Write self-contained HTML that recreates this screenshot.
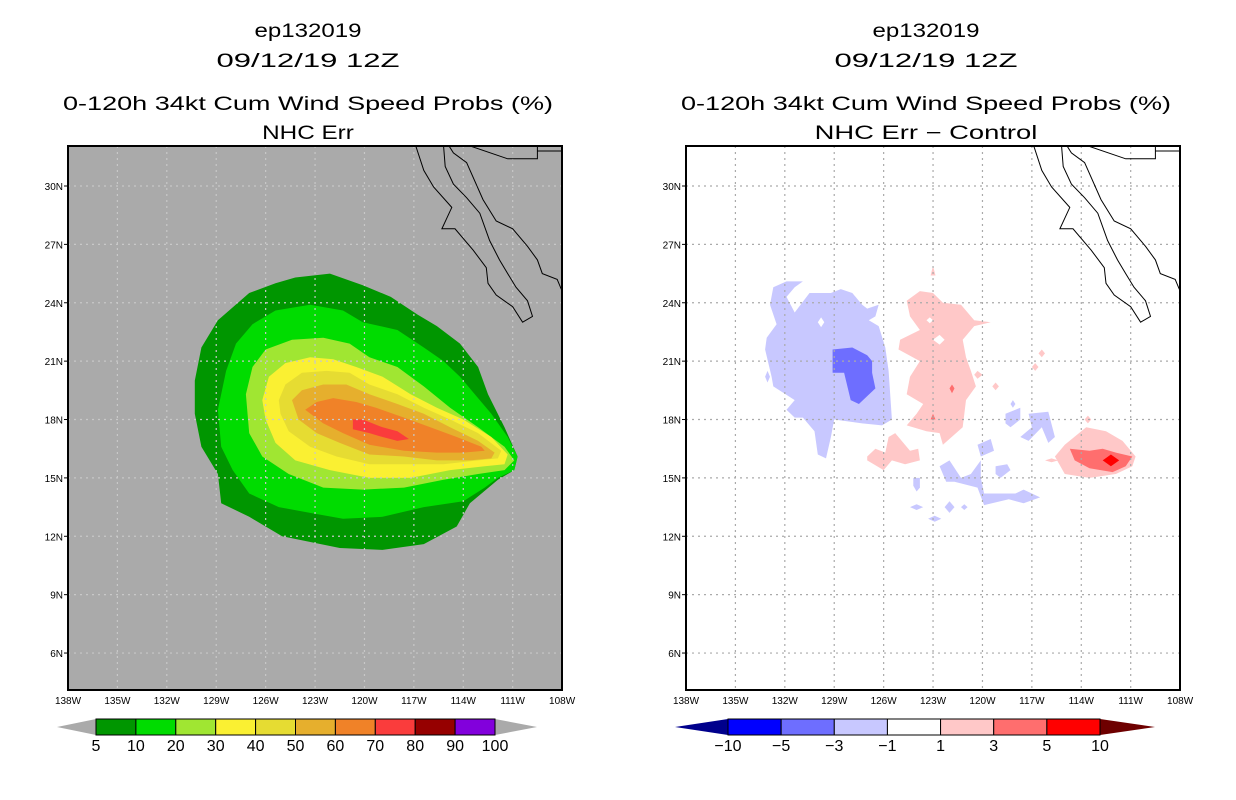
<!DOCTYPE html>
<html><head><meta charset="utf-8">
<style>
html,body{margin:0;padding:0;background:#fff;}
svg{display:block;font-family:"Liberation Sans",sans-serif;}
</style></head>
<body>
<svg id="chart" width="1236" height="800" viewBox="0 0 1236 800" xmlns="http://www.w3.org/2000/svg"></svg>
<script>
// ---------- data ----------
const lonTicks = [138,135,132,129,126,123,120,117,114,111,108];
const latTicks = [30,27,24,21,18,15,12,9,6];
const probLevels = ["5","10","20","30","40","50","60","70","80","90","100"];
const probColors = ["#009600","#00dc00","#a0e632","#faf032","#e6dc32","#e6af2d","#f08228","#fa3c3c","#960000","#8200dc"];
const diffLevels = ["-10","-5","-3","-1","1","3","5","10"];
const diffColors = ["#00008c","#0000ff","#6e6eff","#c8c8ff","#ffffff","#ffc8c8","#ff6e6e","#ff0000","#6e0000"];

// contour polygons: [lonW, latN]
const prob5 = [[130.3,20.0],[129.9,21.7],[128.9,23.1],[127.0,24.5],[125.4,25.0],[124.2,25.3],[122.1,25.5],[120.1,24.9],[118.4,24.3],[116.8,23.4],[115.6,22.8],[114.2,21.9],[113.1,20.7],[112.5,19.3],[111.5,17.6],[110.7,16.1],[110.9,15.4],[111.9,14.9],[113.6,13.7],[114.4,12.5],[116.4,11.6],[118.9,11.3],[121.5,11.4],[125.0,12.0],[127.0,13.0],[128.7,13.7],[128.9,15.2],[129.9,16.6],[130.3,18.3]];
const prob10 = [[128.9,18.5],[128.4,20.5],[127.8,21.9],[126.8,22.9],[125.4,23.6],[123.3,23.9],[121.3,23.6],[120.1,23.0],[118.0,22.6],[116.4,21.7],[115.2,21.0],[114.2,20.2],[113.3,19.3],[112.3,18.3],[111.3,17.1],[110.7,16.1],[110.9,15.4],[111.9,15.0],[112.7,14.5],[114.0,13.8],[116.4,13.5],[118.9,13.0],[121.3,12.9],[123.3,13.2],[125.2,13.5],[127.0,14.2],[128.0,15.4],[128.7,16.6]];
const prob20 = [[127.2,19.3],[126.8,20.7],[126.0,21.6],[124.4,22.1],[122.5,22.2],[120.9,21.9],[119.7,21.2],[118.0,20.7],[116.4,19.7],[114.8,18.6],[113.1,17.6],[111.5,16.6],[110.9,15.9],[111.5,15.4],[113.1,15.2],[115.2,14.9],[117.6,14.5],[120.1,14.4],[122.5,14.5],[124.6,15.2],[126.2,16.1],[127.0,17.3]];
const prob30 = [[126.2,19.0],[125.8,20.2],[124.8,20.9],[123.3,21.2],[121.9,21.1],[120.5,20.7],[118.9,20.2],[117.2,19.3],[115.6,18.6],[114.0,18.0],[112.3,17.1],[111.3,16.2],[111.5,15.7],[112.7,15.6],[114.8,15.4],[117.2,15.0],[119.7,15.0],[122.1,15.4],[124.2,15.9],[125.4,16.8],[126.0,18.0]];
const prob40 = [[125.2,19.0],[124.8,19.8],[123.8,20.4],[122.3,20.5],[120.9,20.4],[119.7,19.8],[118.0,19.3],[116.4,18.6],[114.8,18.0],[113.1,17.3],[111.7,16.4],[111.9,16.0],[113.1,15.9],[115.2,15.7],[117.2,15.7],[119.7,15.7],[121.7,16.1],[123.3,16.6],[124.6,17.4],[125.1,18.3]];
const prob50 = [[124.4,19.0],[123.8,19.5],[122.5,19.8],[121.1,19.8],[119.7,19.3],[118.0,18.8],[116.4,18.3],[114.8,17.6],[113.1,16.9],[112.1,16.3],[112.3,16.0],[113.6,15.9],[115.6,15.9],[117.6,16.1],[119.7,16.2],[121.5,16.8],[122.9,17.3],[124.0,18.0]];
const prob60 = [[123.6,18.5],[122.9,18.9],[121.9,19.1],[120.5,18.9],[119.3,18.6],[117.6,18.1],[116.0,17.6],[114.4,17.1],[112.9,16.6],[112.7,16.4],[114.0,16.3],[115.6,16.3],[117.6,16.4],[119.7,16.7],[121.3,17.3],[122.5,17.8]];
const prob70 = [[120.7,18.0],[120.1,18.0],[118.9,17.6],[118.0,17.4],[117.3,17.0],[118.0,16.9],[118.9,17.1],[119.7,17.3],[120.7,17.5]];

const diffNeg1 = [[132.9,23.9],[132.7,24.8],[131.9,25.1],[130.9,25.1],[131.4,24.8],[131.9,24.3],[131.4,23.5],[130.5,24.5],[129.2,24.5],[128.6,24.7],[127.9,24.5],[127.3,23.9],[127.0,23.7],[126.3,23.9],[126.5,23.3],[126.9,23.1],[126.3,22.8],[125.9,21.7],[125.7,20.5],[125.6,19.3],[125.5,18.0],[126.1,17.7],[127.3,17.8],[129.0,18.0],[129.2,17.1],[129.5,16.0],[130.0,16.2],[130.2,17.4],[130.9,18.1],[131.4,18.1],[131.9,18.5],[131.4,19.0],[132.7,19.7],[132.8,20.2],[133.2,21.6],[133.1,22.2],[132.5,22.9]];
const diffNeg3 = [[129.1,21.6],[127.9,21.7],[127.0,21.3],[126.7,21.0],[126.7,20.4],[126.5,19.6],[127.5,18.8],[128.0,19.0],[128.4,20.4],[129.1,20.4]];
const diffNegSmall = [
 [[120.3,16.7],[119.5,17.0],[119.3,16.4],[120.1,16.1]],
 [[118.6,18.3],[117.7,18.6],[117.7,18.0],[118.3,17.6],[118.6,17.8]],
 [[117.2,18.3],[116.0,18.4],[115.6,17.1],[116.0,16.8],[116.4,17.6],[117.2,16.9],[117.7,17.1],[117.0,17.6]],
 [[122.6,15.6],[122.0,15.9],[121.3,15.0],[120.7,15.2],[120.1,15.9],[120.1,15.0],[119.9,14.2],[118.0,14.2],[117.5,14.4],[116.5,14.0],[117.5,13.7],[118.4,13.9],[119.9,13.6],[120.3,14.5],[121.7,14.8],[122.2,14.8]],
 [[119.2,15.6],[118.5,15.7],[118.3,15.4],[118.9,15.0],[119.2,15.2]],
 [[124.2,15.0],[123.8,15.0],[123.8,14.5],[124.0,14.3],[124.2,14.6]],
 [[122.3,13.5],[122.0,13.8],[121.7,13.5],[122.0,13.2]],
 [[124.4,13.5],[124.0,13.65],[123.6,13.5],[124.0,13.35]],
 [[123.3,12.9],[122.9,13.05],[122.5,12.9],[122.9,12.75]],
 [[121.3,13.5],[121.1,13.65],[120.9,13.5],[121.1,13.35]],
 [[118.3,18.8],[118.15,19.0],[118.0,18.8],[118.15,18.6]],
 [[133.2,20.2],[133.05,20.5],[132.9,20.2],[133.05,19.9]]
];
const diffPos1 = [[124.6,24.1],[123.8,24.6],[123.0,24.5],[122.4,24.0],[121.3,23.9],[120.5,23.1],[119.5,23.0],[120.5,22.8],[121.2,22.1],[121.0,21.2],[120.7,20.5],[120.4,19.7],[121.0,19.0],[121.2,17.6],[122.4,16.7],[122.6,17.3],[123.4,17.4],[124.6,17.7],[124.0,18.3],[123.6,18.8],[124.6,19.3],[124.4,20.2],[123.8,21.0],[125.1,21.6],[125.0,22.1],[123.8,22.6],[124.4,23.3]];
const diffPosSmall = [
 [[127.0,16.1],[126.5,16.5],[125.9,16.3],[125.7,17.1],[125.3,17.3],[124.4,16.4],[123.9,16.5],[123.8,15.9],[124.7,15.7],[125.5,15.9],[126.0,15.4],[127.0,15.9]],
 [[115.6,16.1],[115.0,16.7],[113.7,17.6],[112.5,17.4],[111.5,16.9],[110.7,16.1],[110.9,15.6],[111.9,15.2],[113.5,15.0],[115.0,15.2]],
 [[123.0,25.9],[122.85,25.4],[123.15,25.4]],
 [[120.3,20.5],[120.0,20.3],[120.3,20.1],[120.5,20.3]],
 [[119.4,19.7],[119.2,19.9],[119.0,19.7],[119.2,19.5]],
 [[116.6,21.4],[116.4,21.6],[116.2,21.4],[116.4,21.2]],
 [[117.0,20.7],[116.8,20.9],[116.6,20.7],[116.8,20.5]],
 [[113.8,18.0],[113.6,18.2],[113.4,18.0],[113.6,17.8]],
 [[116.2,15.9],[115.8,16.0],[115.4,15.9],[115.8,15.8]]
];
const diffPos3 = [[114.7,16.5],[113.5,16.4],[112.7,16.5],[111.9,16.3],[110.9,16.1],[111.3,15.6],[112.1,15.3],[113.5,15.5],[114.4,15.9]];
const diffPos3Small = [
 [[122.0,19.6],[121.85,19.8],[121.7,19.6],[121.85,19.35]],
 [[123.0,18.3],[122.85,18.0],[123.15,18.0]]
];
const diffPos5 = [[112.7,15.9],[112.2,16.2],[111.7,15.9],[112.2,15.6]];

// coastlines (lonW, latN)
const bajaCoast = [[116.9,32.1],[116.4,30.8],[115.8,29.95],[114.7,28.9],[115.3,27.8],[114.5,27.8],[113.4,26.7],[112.6,25.8],[112.5,25.0],[112.0,24.4],[111.0,23.8],[110.4,23.0],[109.8,23.3],[110.1,24.1],[110.8,24.8],[111.3,25.5],[111.8,26.2],[112.4,27.2],[113.0,28.6],[113.8,29.4],[114.6,30.1],[115.1,31.0],[115.2,32.1]];
const mainCoast = [[114.9,32.1],[114.6,31.7],[113.8,31.2],[112.8,29.3],[112.0,28.2],[111.0,27.8],[110.1,26.9],[109.5,26.2],[109.2,25.5],[108.3,25.2],[108.0,24.6]];
const border = [[113.6,32.06],[111.3,31.4],[109.5,31.4],[109.5,32.06]];
const border2 = [[109.5,31.8],[108.6,31.8],[108.0,31.8]];

// ---------- geometry ----------
const NS="http://www.w3.org/2000/svg";
const svg=document.getElementById('chart');
const PX=16.47, PY=19.46;
function xs(ox,w){return ox+68+(138-w)*PX;}
function ys(lat){return 186+(30-lat)*PY;}
function mk(tag,attrs,parent){const e=document.createElementNS(NS,tag);for(const k in attrs)e.setAttribute(k,attrs[k]);(parent||svg).appendChild(e);return e;}
function pts(ox,arr){return arr.map(p=>xs(ox,p[0]).toFixed(1)+","+ys(p[1]).toFixed(1)).join(" ");}
function txt(s,x,y,size,anchor,parent,len){const t=mk('text',{x:x,y:y,'font-size':size,'text-anchor':anchor||'middle',fill:'#000'},parent);if(len){t.setAttribute('textLength',len);t.setAttribute('lengthAdjust','spacingAndGlyphs');}t.textContent=s;return t;}

function panel(ox,name,bg,gridColor,titles){
  const g=mk('g',{});
  
  
  const cx=ox+308;
  const t1=txt('ep132019',cx,37,19,'middle',g,107);
  
  
  const t2=txt('09/12/19 12Z',cx,67,19,'middle',g,183);
  
  
  const t3=txt('0-120h 34kt Cum Wind Speed Probs (%)',cx,110,19,'middle',g,490);
  
  
  const t4=txt(titles,cx,139,19,'middle',g,titles.length*13.1);
  
  
  const clipId='clip'+ox;
  const cp=mk('clipPath',{id:clipId},g);
  mk('rect',{x:ox+68,y:146,width:494,height:544},cp);
  const bgr=mk('rect',{x:ox+68,y:146,width:494,height:544,fill:bg},g);
  
  
  const layer=mk('g',{'clip-path':'url(#'+clipId+')'},g);
  return {g,layer};
}
function poly(ox,layer,arr,color,name){
  const p=mk('polygon',{points:pts(ox,arr),fill:color},layer);
  
  
}
function finish(ox,g,layer,gridColor){
  const grid=mk('g',{stroke:gridColor,'stroke-width':1.2,'stroke-dasharray':'2,4'},layer);
  
  
  lonTicks.forEach(w=>{const x=xs(ox,w);mk('line',{x1:x,y1:146,x2:x,y2:690},grid);});
  latTicks.forEach(l=>{const y=ys(l);mk('line',{x1:ox+68,y1:y,x2:ox+562,y2:y},grid);});
  const coast=mk('g',{fill:'none',stroke:'#000','stroke-width':1},layer);
  
  
  [bajaCoast,mainCoast,border,border2].forEach(a=>mk('polyline',{points:pts(ox,a)},coast));
  const fr=mk('rect',{x:ox+68,y:146,width:494,height:544,fill:'none',stroke:'#000','stroke-width':2},g);
  
  
  const ax=mk('g',{},g);
  
  
  latTicks.forEach(l=>{const y=ys(l);mk('line',{x1:ox+64,y1:y,x2:ox+68,y2:y,stroke:'#000'},ax);const t=txt(l+'N',ox+63,y+4,10,'end',ax);});
  lonTicks.forEach(w=>{const x=xs(ox,w);const t=txt(w+'W',x,704,10,'middle',ax);});
}
function colorbar(ox,x0,x1,tipL,tipR,levels,colors,name,triL,triR){
  const g=mk('g',{stroke:'#000','stroke-width':1});
  
  
  const n=levels.length-1, bw=(x1-x0)/n, y0=719, y1=735, ym=727;
  const a=mk('polygon',{points:`${tipL},${ym} ${x0},${y0} ${x0},${y1}`,fill:triL,stroke:'none'},g);
  
  const b=mk('polygon',{points:`${tipR},${ym} ${x1},${y0} ${x1},${y1}`,fill:triR,stroke:'none'},g);
  
  for(let i=0;i<n;i++){
    const r=mk('rect',{x:x0+i*bw,y:y0,width:bw,height:y1-y0,fill:colors[i]},g);
    
    
  }
  levels.forEach((l,i)=>{const t=mk('text',{x:x0+i*bw,y:751,'font-size':16,'text-anchor':'middle',fill:'#000',stroke:'none'},g);t.textContent=l.replace('-','\u2212');});
}

// left panel
let L=panel(0,'nhc-err-panel','#aaaaaa','#c8c8c8','NHC Err');
[prob5,prob10,prob20,prob30,prob40,prob50,prob60,prob70].forEach((a,i)=>poly(0,L.layer,a,probColors[i],'prob-contour-'+probLevels[i]));
finish(0,L.g,L.layer,'#c8c8c8');
colorbar(0,96,495,57,537,probLevels,probColors.slice(0,10),'probability-colorbar','#aaaaaa','#aaaaaa');

// right panel
const R0=618;
let R=panel(R0,'difference-panel','#ffffff','#aaaaaa','NHC Err \u2212 Control');
poly(R0,R.layer,diffNeg1,diffColors[3],'diff-contour-neg1');
diffNegSmall.forEach(a=>poly(R0,R.layer,a,diffColors[3],'diff-contour-neg1'));
poly(R0,R.layer,diffNeg3,diffColors[2],'diff-contour-neg3');
poly(R0,R.layer,diffPos1,diffColors[5],'diff-contour-pos1');
diffPosSmall.forEach(a=>poly(R0,R.layer,a,diffColors[5],'diff-contour-pos1'));
poly(R0,R.layer,diffPos3,diffColors[6],'diff-contour-pos3');
diffPos3Small.forEach(a=>poly(R0,R.layer,a,diffColors[6],'diff-contour-pos3'));
poly(R0,R.layer,diffPos5,diffColors[7],'diff-contour-pos5');
// white holes in blobs
poly(R0,R.layer,[[130.0,23.0],[129.8,23.25],[129.6,23.0],[129.8,22.75]],'#ffffff','diff-hole');
poly(R0,R.layer,[[123.0,22.1],[122.6,22.35],[122.3,22.1],[122.6,21.85]],'#ffffff','diff-hole');
poly(R0,R.layer,[[123.4,23.1],[123.2,23.25],[123.0,23.1],[123.2,22.95]],'#ffffff','diff-hole');
finish(R0,R.g,R.layer,'#aaaaaa');
colorbar(R0,728,1100,675,1155,diffLevels,diffColors.slice(1,8),'difference-colorbar','#00008c','#6e0000');
</script>
</body></html>
